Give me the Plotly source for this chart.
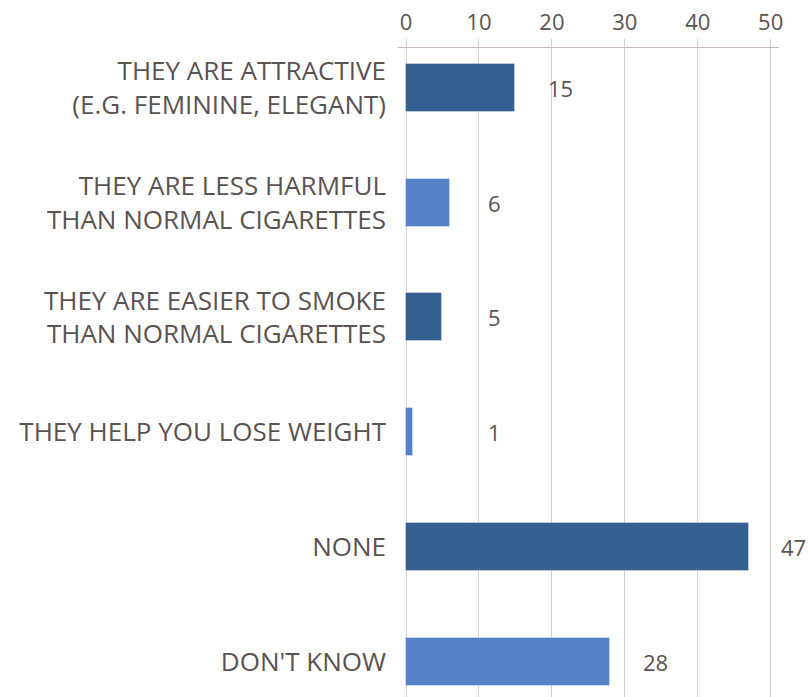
import plotly.graph_objects as go

categories = [
    "THEY ARE ATTRACTIVE<br>(E.G. FEMININE, ELEGANT)",
    "THEY ARE LESS HARMFUL<br>THAN NORMAL CIGARETTES",
    "THEY ARE EASIER TO SMOKE<br>THAN NORMAL CIGARETTES",
    "THEY HELP YOU LOSE WEIGHT",
    "NONE",
    "DON'T KNOW",
]
values = [15, 6, 5, 1, 47, 28]
x_ticks = [0, 10, 20, 30, 40, 50]

DARK = "#345f91"
LIGHT = "#5581c8"
TEXT = "#5b5252"
FONT = "Open Sans"

idx = list(range(len(categories)))
colors = [DARK if i % 2 == 0 else LIGHT for i in idx]

fig = go.Figure()
fig.add_trace(go.Bar(
    x=values, y=idx, orientation="h", width=0.418,
    marker=dict(color=colors, line=dict(color="rgba(255,255,255,0.35)", width=1)),
    hoverinfo="x+y",
))

# value labels placed to the right of each bar (short bars share a common minimum position)
for i, v in zip(idx, values):
    fig.add_annotation(
        x=max(v, 6), y=i, text=str(v), showarrow=False,
        xanchor="center", yanchor="middle", xshift=45,
        font=dict(family=FONT, size=22, color=TEXT),
    )

fig.update_layout(
    width=809, height=697,
    margin=dict(l=398, r=30, t=48, b=0, autoexpand=False),
    paper_bgcolor="white", plot_bgcolor="white",
    showlegend=False,
    bargap=0,
    xaxis=dict(
        side="top", range=[-1.1, 51.14], tickvals=x_ticks,
        ticktext=[str(t) for t in x_ticks],
        showgrid=True, gridcolor="#d9d0cc", gridwidth=1,
        zeroline=False,
        showline=True, linecolor="#c9bab3", linewidth=1,
        ticks="outside", ticklen=8, tickcolor="#d9d0cc",
        tickfont=dict(family=FONT, size=22, color=TEXT),
        automargin=False,
        fixedrange=True,
    ),
    yaxis=dict(
        range=[5.309, -0.349], tickvals=idx, ticktext=categories,
        showgrid=False, zeroline=False, showline=False, ticks="",
        tickfont=dict(family=FONT, size=26, color=TEXT),
        ticklabelstandoff=11,
        automargin=False,
        fixedrange=True,
    ),
)

fig.write_html("out.html", config={"displayModeBar": False},
               post_script="document.body.style.margin='0';")
